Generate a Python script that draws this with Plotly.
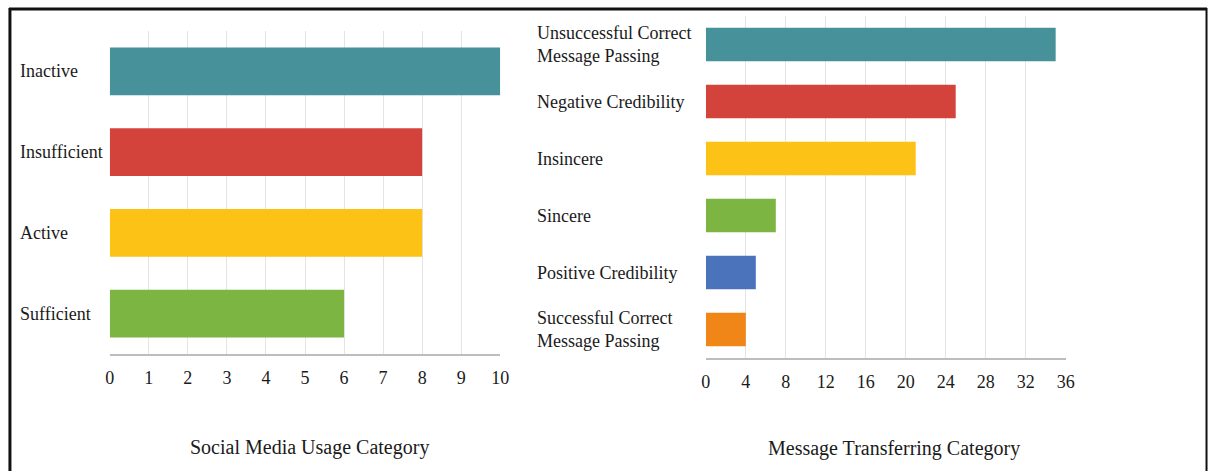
import plotly.graph_objects as go

# ---- data ----
usage_categories = ["Inactive", "Insufficient", "Active", "Sufficient"]
usage_values = [10, 8, 8, 6]
usage_colors = ["#46919A", "#D4433B", "#FCC216", "#7DB543"]

msg_categories = [
    "Unsuccessful Correct<br>Message Passing",
    "Negative Credibility",
    "Insincere",
    "Sincere",
    "Positive Credibility",
    "Successful Correct<br>Message Passing",
]
msg_values = [35, 25, 21, 7, 5, 4]
msg_colors = ["#46919A", "#D4433B", "#FCC216", "#7DB543", "#4A73BB", "#F08518"]

usage_ticks = list(range(0, 11, 1))
msg_ticks = list(range(0, 37, 4))

W, H = 1217, 471
FONT = "Liberation Serif, Times New Roman, serif"
TXT = "#1a1a1a"

def px(x):
    return x / W

def py(y):
    return (H - y) / H

fig = go.Figure()
fig.add_trace(go.Bar(
    x=usage_values, y=usage_categories, orientation="h",
    marker=dict(color=usage_colors, line=dict(width=0)),
    xaxis="x", yaxis="y", showlegend=False, hoverinfo="x+y",
))
fig.add_trace(go.Bar(
    x=msg_values, y=msg_categories, orientation="h",
    marker=dict(color=msg_colors, line=dict(width=0)),
    xaxis="x2", yaxis="y2", showlegend=False, hoverinfo="x+y",
))

grid = "#e4e4e4"
axline = "#bdbdbd"

common_x = dict(
    showgrid=True, gridcolor=grid, gridwidth=1, zeroline=False,
    showline=True, linecolor=axline, linewidth=1.5, ticks="",
    tickfont=dict(family=FONT, size=18, color=TXT),
)
common_y = dict(showticklabels=False, showgrid=False, zeroline=False,
                showline=False, ticks="")

fig.update_layout(
    width=W, height=H,
    margin=dict(l=0, r=0, t=0, b=0),
    paper_bgcolor="white", plot_bgcolor="white",
    bargap=0.41,
    font=dict(family=FONT, size=18, color=TXT),
    xaxis=dict(domain=[px(106), px(501)], range=[0, 10], tickvals=usage_ticks,
               anchor="y", ticklabelstandoff=7, **common_x),
    yaxis=dict(domain=[py(354), py(31)], range=[len(usage_categories) - 0.5, -0.5],
               type="category", anchor="x", **common_y),
    xaxis2=dict(domain=[px(709), px(1073)], range=[0, 36], tickvals=msg_ticks,
                anchor="y2", ticklabelstandoff=7, **common_x),
    yaxis2=dict(domain=[py(358), py(16)], range=[len(msg_categories) - 0.5, -0.5],
                type="category", anchor="x2", **common_y),
)

annotations = []
for c in usage_categories:
    annotations.append(dict(
        x=px(13), xref="paper", y=c, yref="y", text=c, showarrow=False,
        xanchor="left", yanchor="middle", align="left",
        font=dict(family=FONT, size=18, color=TXT)))
for c in msg_categories:
    annotations.append(dict(
        x=px(536), xref="paper", y=c, yref="y2", text=c, showarrow=False,
        xanchor="left", yanchor="middle", align="left",
        font=dict(family=FONT, size=18, color=TXT)))
annotations.append(dict(
    x=px(308), xref="paper", y=py(447), yref="paper",
    text="Social Media Usage Category", showarrow=False,
    xanchor="center", yanchor="middle",
    font=dict(family=FONT, size=20, color=TXT)))
annotations.append(dict(
    x=px(899), xref="paper", y=py(448), yref="paper",
    text="Message Transferring Category", showarrow=False,
    xanchor="center", yanchor="middle",
    font=dict(family=FONT, size=20, color=TXT)))
fig.update_layout(annotations=annotations)

# frame around the figure
fig.add_shape(type="line", xref="paper", yref="paper",
              x0=px(5), x1=px(5), y0=py(472), y1=py(8),
              line=dict(color="#111111", width=3))
fig.add_shape(type="line", xref="paper", yref="paper",
              x0=px(4), x1=px(1216), y0=py(9), y1=py(9),
              line=dict(color="#111111", width=3))
fig.add_shape(type="line", xref="paper", yref="paper",
              x0=px(1215.5), x1=px(1215.5), y0=py(472), y1=py(8),
              line=dict(color="#111111", width=2))

fig.write_html(
    "out.html",
    config={"displayModeBar": False},
    post_script="document.body.style.margin='0';"
                "document.documentElement.style.overflow='hidden';",
)
